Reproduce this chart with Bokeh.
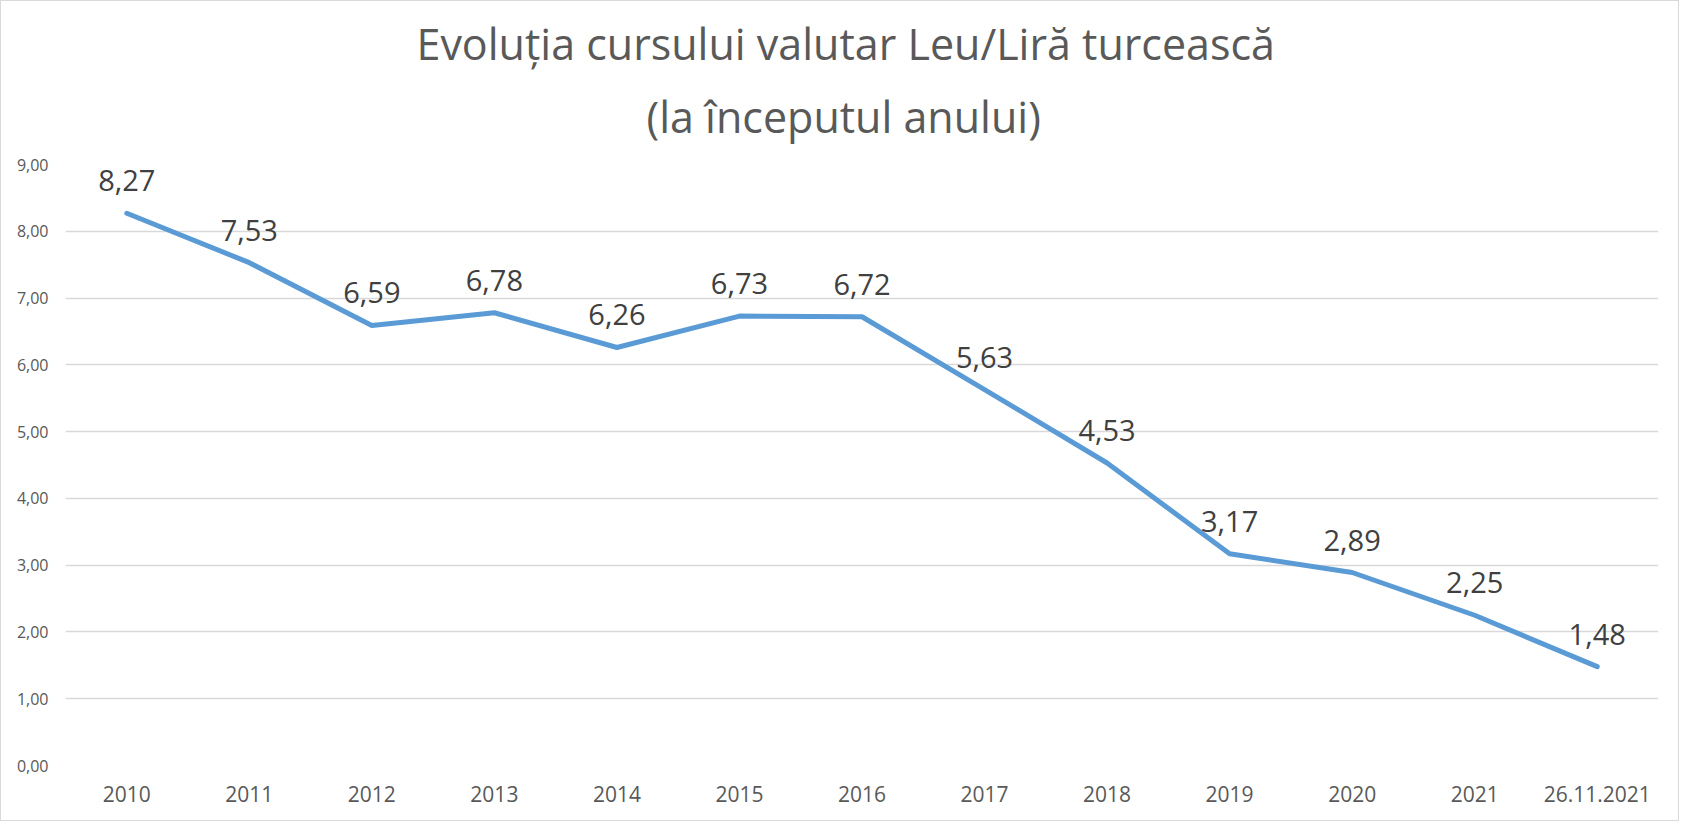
from bokeh.plotting import figure
from bokeh.models import ColumnDataSource, FactorRange, FixedTicker, LabelSet, Title
from bokeh.core.properties import value
from bokeh.embed import file_html
from bokeh.resources import INLINE

# ---- data ----
categories = ["2010", "2011", "2012", "2013", "2014", "2015", "2016",
              "2017", "2018", "2019", "2020", "2021", "26.11.2021"]
rates = [8.27, 7.53, 6.59, 6.78, 6.26, 6.73, 6.72, 5.63, 4.53, 3.17, 2.89, 2.25, 1.48]
y_ticks = [0, 1, 2, 3, 4, 5, 6, 7, 8, 9]
title_line1 = "Evoluția cursului valutar Leu/Liră turcească"
title_line2 = "(la începutul anului)"

labels = [f"{v:.2f}".replace(".", ",") for v in rates]
source = ColumnDataSource(data=dict(x=categories, y=rates, label=labels))

FONT = "Open Sans"
W, H = 1679, 821

p = figure(
    width=W, height=H,
    x_range=FactorRange(factors=categories, range_padding=0),
    y_range=(0, 9),
    output_backend="svg", toolbar_location=None,
    min_border_left=64, min_border_right=22,
    min_border_top=163, min_border_bottom=57,
)
p.title = None
p.styles = {"border": "1px solid #d9d9d9"}

# titles (second line added first: closest to the plot); centred on the whole chart
p.add_layout(Title(text=title_line2, align="left", offset=581, text_font=FONT,
                   text_font_size="43px", text_font_style="normal",
                   text_color="#595959", standoff=38), "above")
p.add_layout(Title(text=title_line1, align="left", offset=351, text_font=FONT,
                   text_font_size="43px", text_font_style="normal",
                   text_color="#595959", standoff=-14), "above")

p.outline_line_color = None
p.background_fill_color = "white"
p.border_fill_color = "white"

# grid
p.xgrid.grid_line_color = None
p.ygrid.grid_line_color = "#d9d9d9"
p.ygrid.grid_line_width = 1.5

# y axis
p.yaxis.ticker = FixedTicker(ticks=y_ticks)
p.yaxis.major_label_overrides = {t: f"{t},00" for t in y_ticks}
p.yaxis.axis_line_color = None
p.yaxis.major_tick_line_color = None
p.yaxis.minor_tick_line_color = None
p.yaxis.major_label_text_font = FONT
p.yaxis.major_label_text_font_size = "16px"
p.yaxis.major_label_text_color = "#595959"
p.yaxis.major_label_standoff = 11

# x axis
p.xaxis.axis_line_color = None
p.xaxis.major_tick_line_color = None
p.xaxis.minor_tick_line_color = None
p.xaxis.major_label_text_font = FONT
p.xaxis.major_label_text_font_size = "21px"
p.xaxis.major_label_text_color = "#595959"
p.xaxis.major_label_standoff = 14

# line
p.line("x", "y", source=source, line_color="#5B9BD5", line_width=5,
       line_join="round", line_cap="round")

# data labels
p.add_layout(LabelSet(x="x", y="y", text="label", source=source,
                      text_align="center", text_baseline="alphabetic",
                      y_offset=22, text_font=value(FONT), text_font_size=value("29px"),
                      text_color="#404040"))

open("out.html", "w").write(file_html(p, INLINE))
